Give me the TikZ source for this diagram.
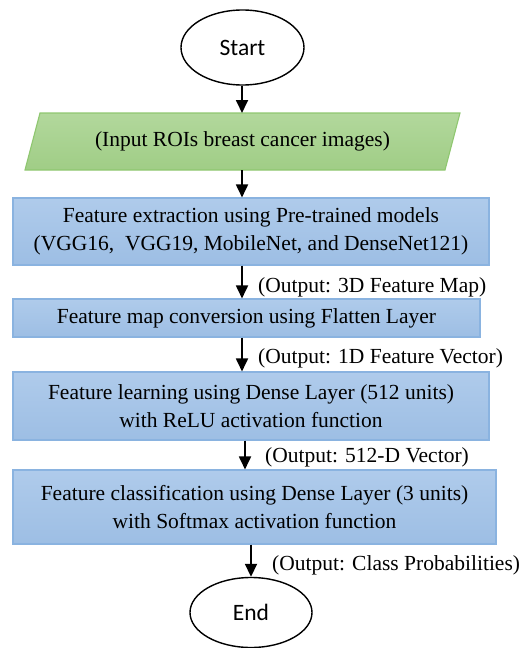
\documentclass[tikz,border=0pt]{standalone}
\usepackage{fontspec}
\setmainfont{Liberation Serif}
\newfontfamily\sansf{Carlito}
\usetikzlibrary{shapes.geometric,arrows.meta,calc}
\definecolor{bluetop}{HTML}{AFCBEB}
\definecolor{bluebot}{HTML}{9DBEE4}
\definecolor{blueline}{HTML}{8AB3E0}
\definecolor{greentop}{HTML}{B2D89C}
\definecolor{greenbot}{HTML}{A0CD86}
\definecolor{greenline}{HTML}{8FC770}
\tikzset{
  term/.style={ellipse, draw=black, line width=1.4pt, fill=white, inner sep=0pt,
    font=\sansf\fontsize{23.5}{26}\selectfont},
  procbox/.style={rectangle, draw=blueline, line width=1.1pt, top color=bluetop, bottom color=bluebot,
    inner sep=0pt, align=center, font=\fontsize{21.5}{27.5}\selectfont},
  parashape/.style={draw=greenline, line width=1.1pt, top color=greentop, bottom color=greenbot},
  txt/.style={inner sep=0pt, font=\fontsize{21.5}{27.5}\selectfont},
  arr/.style={line width=1.8pt, -{Triangle[width=12pt,length=13pt]}},
}
\begin{document}
\begin{tikzpicture}[x=1pt,y=-1pt]
\useasboundingbox (0,0) rectangle (522,648);
\node[term, minimum width=123pt, minimum height=75pt] (start) at (242.5,47.5) {Start};
\draw[parashape] (25,170) -- (445,170) -- (460,113) -- (40,113) -- cycle;
\node[txt] (input) at (242.5,141.5) {(Input ROIs breast cancer images)};
\node[procbox, minimum width=476pt, minimum height=67pt] (box1) at (251,231.5)
  {Feature extraction using Pre-trained models\\(VGG16, \ VGG19, MobileNet, and DenseNet121)};
\node[procbox, minimum width=467pt, minimum height=38pt] (box2) at (246.5,318)
  {Feature map conversion using Flatten Layer};
\node[procbox, minimum width=476pt, minimum height=68pt] (box3) at (251,406)
  {Feature learning using Dense Layer (512 units)\\with ReLU activation function};
\node[procbox, minimum width=483pt, minimum height=74pt] (box4) at (254.5,507)
  {Feature classification using Dense Layer (3 units)\\with Softmax activation function};
\node[term, minimum width=122pt, minimum height=70pt] (end) at (251,612.5) {End};
\node[txt, anchor=west] (lab1) at (258,287) {(Output: 3D Feature Map)};
\node[txt, anchor=west] (lab2) at (258,358) {(Output: 1D Feature Vector)};
\node[txt, anchor=west] (lab3) at (265,457) {(Output: 512-D Vector)};
\node[txt, anchor=west] (lab4) at (272,565) {(Output: Class Probabilities)};
\coordinate (xa) at (242,0);
\coordinate (xb) at (245,0);
\coordinate (xc) at (251,0);
\draw[arr] (start.south -| xa) -- (xa |- 0,113);
\draw[arr] (xa |- 0,170) -- (box1.north -| xa);
\draw[arr] (box1.south -| xa) -- (box2.north -| xa);
\draw[arr] (box2.south -| xa) -- (box3.north -| xa);
\draw[arr] (box3.south -| xb) -- (box4.north -| xb);
\draw[arr] (box4.south -| xc) -- (end.north);
\end{tikzpicture}
\end{document}
